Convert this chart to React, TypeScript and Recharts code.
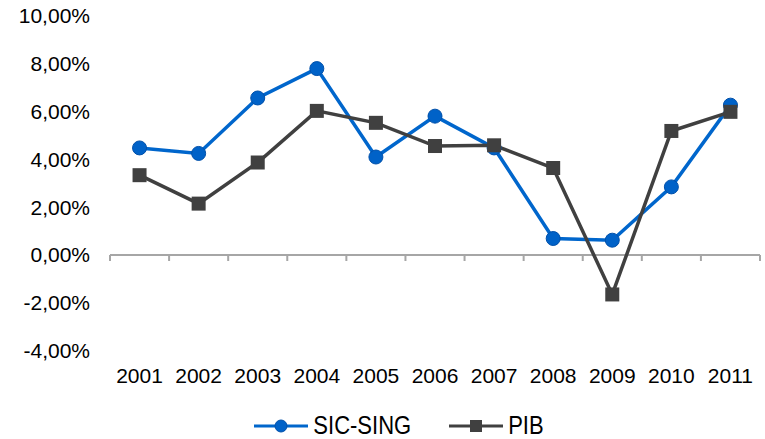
import { ComposedChart, Line, XAxis, YAxis, ReferenceLine, Legend } from 'recharts';

const YEARS = ['2001', '2002', '2003', '2004', '2005', '2006', '2007', '2008', '2009', '2010', '2011'];
const SIC_SING = [4.48, 4.25, 6.57, 7.8, 4.1, 5.81, 4.48, 0.69, 0.62, 2.85, 6.27];
const PIB = [3.34, 2.15, 3.87, 6.03, 5.53, 4.56, 4.59, 3.64, -1.65, 5.19, 5.99];
const Y_TICKS = [-4, -2, 0, 2, 4, 6, 8, 10];
const SERIES_ORDER = ['sic', 'pib'];

const BLUE = '#0066cc';
const GRAY = '#404040';
const FONT = '"Liberation Sans", Arial, sans-serif';

const chartData = YEARS.map((year, i) => ({ year, sic: SIC_SING[i], pib: PIB[i] }));

function formatPct(v: number): string {
  return v.toFixed(2).replace('.', ',') + '%';
}

function CircleDot(props: any) {
  const { cx, cy, index } = props;
  if (cx == null || cy == null) return null;
  return <circle key={`c-${index}`} cx={cx} cy={cy} r={7} fill="#0062c8" stroke="#0050aa" strokeWidth={1} />;
}

function SquareDot(props: any) {
  const { cx, cy, index } = props;
  if (cx == null || cy == null) return null;
  return <rect key={`s-${index}`} x={cx - 7} y={cy - 7} width={14} height={14} fill={GRAY} />;
}

// zero line with small ticks at the category boundaries
function ZeroAxis(props: any) {
  const { x1, y1, x2 } = props;
  const n = YEARS.length;
  const step = (x2 - x1) / n;
  return (
    <g>
      <line x1={x1} y1={y1} x2={x2} y2={y1} stroke="#a6a6a6" strokeWidth={2} />
      {Array.from({ length: n + 1 }, (_, i) => (
        <line key={i} x1={x1 + step * i} y1={y1} x2={x1 + step * i} y2={y1 + 6} stroke="#a6a6a6" strokeWidth={2} />
      ))}
    </g>
  );
}

function LegendContent(props: any) {
  const items = [...(props.payload || [])].sort(
    (a: any, b: any) => SERIES_ORDER.indexOf(a.dataKey) - SERIES_ORDER.indexOf(b.dataKey)
  );
  return (
    <div
      style={{
        display: 'flex',
        justifyContent: 'center',
        alignItems: 'center',
        paddingTop: 18,
        paddingLeft: 38,
        fontFamily: FONT,
        fontSize: 22,
        color: '#000',
      }}
    >
      {items.map((entry: any, i: number) => (
        <div key={i} style={{ display: 'flex', alignItems: 'center', marginRight: i === 0 ? 38 : 0 }}>
          <svg width={54} height={16} style={{ marginRight: 5 }}>
            <line x1={0} y1={8} x2={54} y2={8} stroke={entry.color} strokeWidth={3} />
            {entry.dataKey === 'sic' ? (
              <circle cx={27} cy={8} r={6} fill="#0062c8" stroke="#0050aa" strokeWidth={1} />
            ) : (
              <rect x={21} y={2} width={12} height={12} fill={GRAY} />
            )}
          </svg>
          <span style={{ display: 'inline-block', transform: 'scaleY(1.2)' }}>{entry.value}</span>
        </div>
      ))}
    </div>
  );
}

export default function App() {
  return (
    <div style={{ position: 'absolute', left: 0, top: 0, background: '#fff' }}>
      <ComposedChart width={765} height={439} data={chartData} margin={{ top: 16, right: 5, bottom: 0, left: 0 }}>
        <XAxis
          dataKey="year"
          scale="band"
          axisLine={false}
          tickLine={false}
          tickSize={0}
          tickMargin={17}
          height={44}
          interval={0}
          tick={{ fill: '#000', fontSize: 21, fontFamily: FONT }}
        />
        <YAxis
          domain={[-4, 10]}
          ticks={Y_TICKS}
          width={110}
          axisLine={false}
          tickLine={false}
          tickSize={0}
          tickMargin={20}
          tickFormatter={formatPct}
          tick={{ fill: '#000', fontSize: 21, fontFamily: FONT }}
        />
        <ReferenceLine y={0} shape={ZeroAxis} />
        <Legend verticalAlign="bottom" height={44.4} content={LegendContent} />
        <Line
          dataKey="sic"
          name="SIC-SING"
          stroke={BLUE}
          strokeWidth={3.5}
          dot={CircleDot}
          activeDot={false}
          isAnimationActive={false}
        />
        <Line
          dataKey="pib"
          name="PIB"
          stroke={GRAY}
          strokeWidth={3.5}
          dot={SquareDot}
          activeDot={false}
          isAnimationActive={false}
        />
      </ComposedChart>
    </div>
  );
}
